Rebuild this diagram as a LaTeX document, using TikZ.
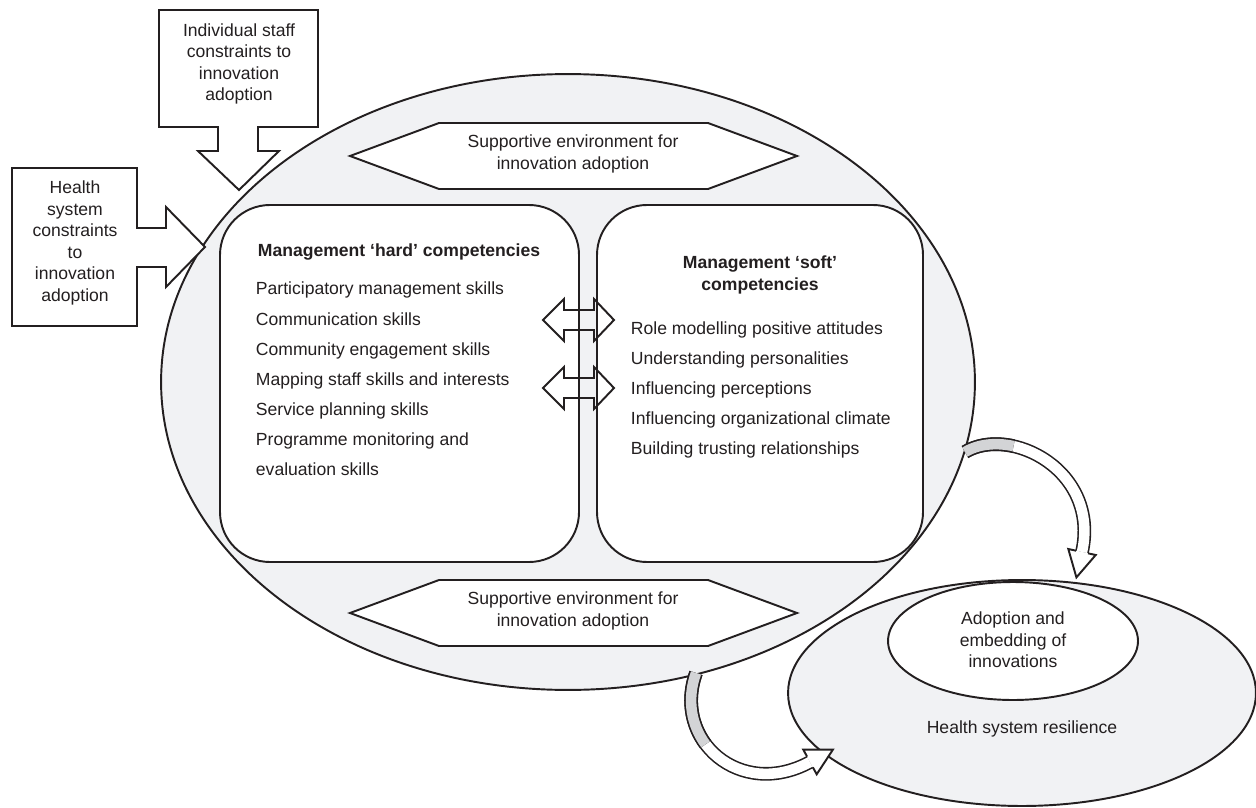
\documentclass[tikz,border=0pt]{standalone}
\usepackage{fontspec}
\setmainfont{Liberation Sans}
\definecolor{ovalgrey}{HTML}{F1F2F4}
\definecolor{twistgrey}{HTML}{D3D4D6}
\definecolor{inkgrey}{HTML}{231F20}

\begin{document}
\begin{tikzpicture}[x=0.02cm, y=-0.02cm, line width=1.1pt, draw=inkgrey,
  txt/.style={font=\fontsize{10}{12.2}\selectfont, text=inkgrey, align=center, inner sep=0pt},
  boldtxt/.style={txt, font=\bfseries\fontsize{10}{12.2}\selectfont},
  item/.style={font=\fontsize{10}{12}\selectfont, text=inkgrey, anchor=base west, inner sep=0pt},
  ribbon/.style={draw=inkgrey, double=white, double distance=6pt, line width=0.9pt}]
\useasboundingbox (0,0) rectangle (1256,807);
\draw[fill=ovalgrey] (568,382) ellipse [x radius=8.14cm, y radius=6.16cm];
\draw[fill=white, rounded corners=1cm] (220,205) rectangle (579,562);
\draw[fill=white, rounded corners=1cm] (597,205) rectangle (923,562);
\draw[fill=white] (350,156) -- (439,123) -- (708,123) -- (797,156) -- (708,189) -- (439,189) -- cycle;
\node[txt] (envtop) at (573,154) {Supportive environment for\\innovation adoption};
\draw[fill=white] (350,613) -- (439,580) -- (708,580) -- (797,613) -- (708,646) -- (439,646) -- cycle;
\node[txt] (envbottom) at (573,611) {Supportive environment for\\innovation adoption};
\node[boldtxt, anchor=base] (hard) at (399,256) {Management `hard' competencies};
\foreach \t [count=\i from 0] in {Participatory management skills, Communication skills,
  Community engagement skills, Mapping staff skills and interests, Service planning skills,
  Programme monitoring and, evaluation skills}
  \node[item] (hard\i) at (255,{295+30*\i}) {\t};
\node[boldtxt] (soft) at (760,275) {Management `soft'\\competencies};
\foreach \t [count=\i from 0] in {Role modelling positive attitudes, Understanding personalities,
  Influencing perceptions, Influencing organizational climate, Building trusting relationships}
  \node[item] (soft\i) at (630,{334+30*\i}) {\t};
\foreach \c in {320,388}
  \draw (543,\c) -- (564,{\c-21}) -- (564,{\c-10}) -- (594,{\c-10}) -- (594,{\c-21}) -- (614,\c)
    -- (594,{\c+21}) -- (594,{\c+10}) -- (564,{\c+10}) -- (564,{\c+21}) -- cycle;
\draw[fill=white] (159,10) -- (318,10) -- (318,127) -- (258,127) -- (258,151) -- (279,151) -- (239,190)
  -- (198,151) -- (218,151) -- (218,127) -- (159,127) -- cycle;
\node[txt] (staff) at (239,64) {Individual staff\\constraints to\\innovation\\adoption};
\draw[fill=white] (12,168) -- (137,168) -- (137,228) -- (166,228) -- (166,207) -- (205,247) -- (166,287)
  -- (166,267) -- (137,267) -- (137,326) -- (12,326) -- cycle;
\node[txt] (system) at (75,243) {Health\\system\\constraints\\to\\innovation\\adoption};
\draw[fill=ovalgrey] (1022,693) ellipse [x radius=4.68cm, y radius=2.26cm];
\draw[fill=white] (1013,641) ellipse [x radius=2.5cm, y radius=1.18cm];
\node[txt] (adoption) at (1013,640) {Adoption and\\embedding of\\innovations};
\node[txt] (resilience) at (1022,729) {Health system resilience};
\coordinate (outA) at (965,452);
\coordinate (inA) at (1082,552);
\draw[ribbon] (outA) .. controls (1010,425) and (1100,470) .. (inA);
\draw[ribbon, double=twistgrey] (outA) .. controls (978.5,443.9) and (996.1,442.3) .. (1013.5,446.1);
\fill[white] (1095.7,555) -- (1076.4,577.4) -- (1068.3,549) -- cycle;
\draw (1088,553.3) -- (1095.7,555) -- (1076.4,577.4) -- (1068.3,549) -- (1076,550.7);
\coordinate (outB) at (696,673);
\coordinate (inB) at (810,762);
\draw[ribbon] (outB) .. controls (672,740) and (740,800) .. (inB);
\draw[ribbon, double=twistgrey] (outB) .. controls (686.4,699.8) and (691.6,725.5) .. (705.5,744.3);
\fill[white] (816.7,774.3) -- (832.9,749.6) -- (803.3,749.7) -- cycle;
\draw (812.9,767.4) -- (816.7,774.3) -- (832.9,749.6) -- (803.3,749.7) -- (807.1,756.6);
\end{tikzpicture}
\end{document}
